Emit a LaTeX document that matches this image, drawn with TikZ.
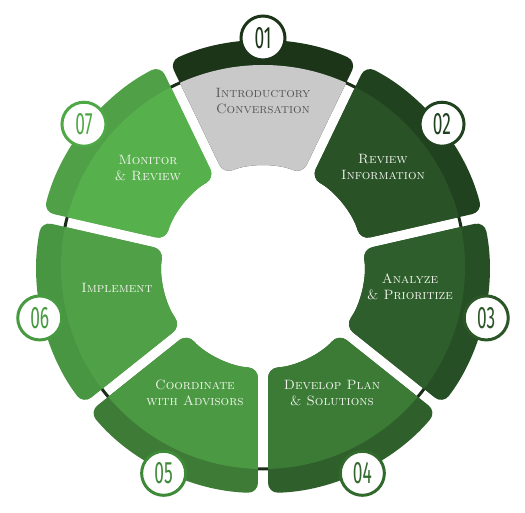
\documentclass[tikz,border=0pt]{standalone}
\usepackage{fontspec}
\usepackage{graphicx}
\newfontfamily\numfont{Fira Sans}
\definecolor{cAf}{HTML}{C9C9C9}\definecolor{cAb}{HTML}{1C3519}\definecolor{cAn}{HTML}{1C3519}
\definecolor{cBf}{HTML}{2A5227}\definecolor{cBb}{HTML}{21421F}\definecolor{cBn}{HTML}{21421F}
\definecolor{cCf}{HTML}{2E5E2B}\definecolor{cCb}{HTML}{274F25}\definecolor{cCn}{HTML}{2B5628}
\definecolor{cDf}{HTML}{3B7B36}\definecolor{cDb}{HTML}{2F5F2B}\definecolor{cDn}{HTML}{326A2E}
\definecolor{cEf}{HTML}{4B9A43}\definecolor{cEb}{HTML}{3D7B37}\definecolor{cEn}{HTML}{3F8A39}
\definecolor{cFf}{HTML}{4FA046}\definecolor{cFb}{HTML}{489542}\definecolor{cFn}{HTML}{489A41}
\definecolor{cGf}{HTML}{56B14C}\definecolor{cGb}{HTML}{4FA046}\definecolor{cGn}{HTML}{4FA846}
\definecolor{ringc}{HTML}{1A2E18}
\definecolor{graytext}{HTML}{555555}
\definecolor{lighttext}{HTML}{F2F4EE}
\tikzset{
  numcircle/.style={circle, fill=white, draw=#1, line width=3pt, minimum size=44pt, inner sep=0pt, text=#1, font=\numfont\fontsize{31}{31}\selectfont},
  label/.style={align=center, text=#1, font=\fontsize{13.5}{15.5}\selectfont\addfontfeature{LetterSpace=4}},
}
\begin{document}
\begin{tikzpicture}[x=1pt,y=1pt]
\useasboundingbox (-263,-246) rectangle (262,267);
\draw[ringc, line width=3pt] (0,0) circle (202pt);
\foreach \k/\cf/\cb/\cn/\num in {0/cAf/cAb/cAn/01,1/cBf/cBb/cBn/02,2/cCf/cCb/cCn/03,3/cDf/cDb/cDn/04,4/cEf/cEb/cEn/05,5/cFf/cFb/cFn/06,6/cGf/cGb/cGn/07}{
  \pgfmathsetmacro\th{90-\k*360/7}
  \pgfmathsetmacro\aoA{\th+180/7-1.27}
  \pgfmathsetmacro\aoB{\th-180/7+1.27}
  \pgfmathsetmacro\aiA{\th-180/7+2.84}
  \pgfmathsetmacro\aiB{\th+180/7-2.84}
  \begin{scope}
    \clip[rounded corners=10pt] (\aoA:226pt) arc[start angle=\aoA, end angle=\aoB, radius=226pt] -- (\aiA:101pt) arc[start angle=\aiA, end angle=\aiB, radius=101pt] -- cycle;
    \fill[\cb] (0,0) circle (232pt);
    \fill[\cf] (0,0) circle (202pt);
  \end{scope}
  \node[numcircle=\cn] (n\num) at (\th:229pt) {\scalebox{0.56}[1]{\num}};
}
\node[label=graytext] (t1) at (0,166) {\textsc{Introductory}\\\textsc{Conversation}};
\node[label=lighttext] (t2) at (120,100) {\textsc{Review}\\\textsc{Information}};
\node[label=lighttext] (t3) at (147,-20) {\textsc{Analyze}\\\textsc{\& Prioritize}};
\node[label=lighttext] (t4) at (69,-126) {\textsc{Develop Plan}\\\textsc{\& Solutions}};
\node[label=lighttext] (t5) at (-68,-126) {\textsc{Coordinate}\\\textsc{with Advisors}};
\node[label=lighttext] (t6) at (-146,-21) {\textsc{Implement}};
\node[label=lighttext] (t7) at (-115,99) {\textsc{Monitor}\\\textsc{\& Review}};
\end{tikzpicture}
\end{document}
